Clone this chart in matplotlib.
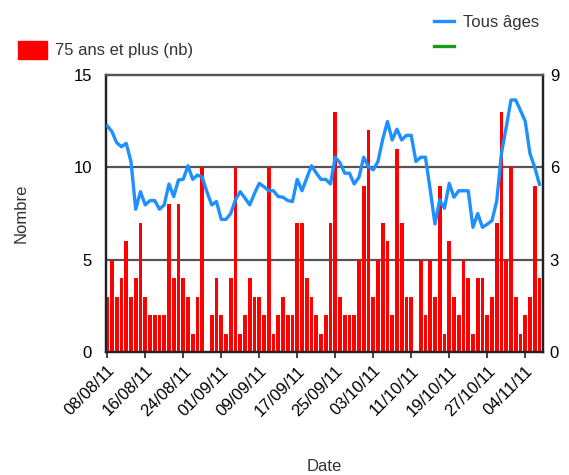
import matplotlib
matplotlib.use("Agg")
import matplotlib.pyplot as plt
import matplotlib.dates as mdates
from matplotlib.lines import Line2D
from matplotlib.patches import Patch
import pandas as pd

plt.rcParams['font.family'] = ['Liberation Sans', 'DejaVu Sans']

# daily values, 08/08/11 -> 07/11/11
start_date = "2011-08-08"
n_days = 92

# 75 ans et plus (nb), left axis
seniors = [3, 5, 3, 4, 6, 3, 4, 7,
           3, 2, 2, 2, 2, 8, 4, 8,
           4, 3, 1, 3, 10, 0, 2, 4,
           2, 1, 4, 10, 1, 2, 4, 3,
           3, 2, 10, 1, 2, 3, 2, 2,
           7, 7, 4, 3, 2, 1, 2, 7,
           13, 3, 2, 2, 2, 5, 9, 12,
           3, 5, 7, 6, 2, 11, 7, 3,
           3, 0, 5, 2, 5, 3, 9, 1,
           6, 3, 2, 5, 4, 1, 4, 4,
           2, 3, 7, 13, 5, 10, 3, 1,
           2, 3, 9, 4]

# Tous âges, right axis
all_ages = [7.35, 7.16, 6.8, 6.67, 6.78, 6.19, 4.64, 5.21,
            4.78, 4.92, 4.92, 4.64, 4.78, 5.46, 5.05, 5.59,
            5.61, 6.05, 5.61, 5.75, 5.68, 5.2, 4.78, 4.89,
            4.31, 4.31, 4.5, 4.95, 5.21, 5.0, 4.78, 5.15,
            5.48, 5.37, 5.24, 5.24, 5.05, 5.03, 4.92, 4.89,
            5.61, 5.24, 5.65, 6.05, 5.82, 5.61, 5.61, 5.46,
            6.33, 6.15, 5.81, 5.81, 5.46, 5.68, 6.33, 6.02,
            5.92, 6.19, 6.91, 7.49, 6.89, 7.24, 6.89, 7.04,
            7.04, 6.19, 6.33, 6.33, 5.27, 4.16, 4.94, 4.67,
            5.48, 5.03, 5.24, 5.24, 5.24, 4.05, 4.5, 4.05,
            4.15, 4.27, 4.9, 6.46, 7.3, 8.19, 8.19, 7.85,
            7.5, 6.45, 6.0, 5.45]

left_ticks = [0, 5, 10, 15]
right_ticks = [0, 3, 6, 9]

dates = pd.date_range(start_date, periods=n_days, freq="D")

fig = plt.figure(figsize=(5.69, 4.75), dpi=100)
ax = fig.add_axes([0.186, 0.259, 0.768, 0.583])
ax2 = ax.twinx()

grid_col = "#555555"
ax.bar(dates, seniors, width=0.8, color="#ff0000", zorder=3)
for v in left_ticks[1:-1]:
    ax.axhline(v, color=grid_col, lw=1.6, zorder=2)

ax2.plot(dates, all_ages, color="#1e90ff", lw=2.4, zorder=4)

ax.set_xlim(dates[0] - pd.Timedelta(hours=7), dates[-1] + pd.Timedelta(hours=17))
ax.set_ylim(0, 15)
ax2.set_ylim(0, 9)
ax.set_yticks(left_ticks)
ax2.set_yticks(right_ticks)

ax.set_xticks(dates[::8])
ax.xaxis.set_major_formatter(mdates.DateFormatter("%d/%m/%y"))
plt.setp(ax.get_xticklabels(), rotation=45, ha="right", rotation_mode="anchor")

ax.tick_params(axis="x", length=4, width=1.2, color="#222222", labelsize=12, pad=4)
ax.tick_params(axis="y", length=0, labelsize=12, pad=10)
ax2.tick_params(axis="y", length=0, labelsize=12, pad=5)

for a in (ax, ax2):
    for s in ("left", "right", "bottom"):
        a.spines[s].set_color("#222222")
        a.spines[s].set_linewidth(1.6)
    a.spines["top"].set_color(grid_col)
    a.spines["top"].set_linewidth(1.6)
ax2.patch.set_visible(False)

ax.set_ylabel("Nombre", fontsize=12, color="#333333", labelpad=32)
ax.set_xlabel("Date", fontsize=12, color="#333333", labelpad=29)

leg1 = fig.legend(handles=[Patch(color="#ff0000")], labels=["75 ans et plus (nb)"],
                  loc="center left", bbox_to_anchor=(0.005, 0.895), frameon=False,
                  fontsize=12, handlelength=1.75, handleheight=1.25, handletextpad=0.5)
leg1.get_texts()[0].set_color("#333333")

leg2 = fig.legend(handles=[Line2D([], [], color="#1e90ff", lw=2.4),
                           Line2D([], [], color="#1a9a1a", lw=2.4)],
                  labels=["Tous âges", ""],
                  loc="upper left", bbox_to_anchor=(0.737, 1.0), frameon=False,
                  fontsize=12, handlelength=1.2, handletextpad=0.5, labelspacing=0.6)
leg2.get_texts()[0].set_color("#333333")

fig.savefig("out.png", dpi=100)
